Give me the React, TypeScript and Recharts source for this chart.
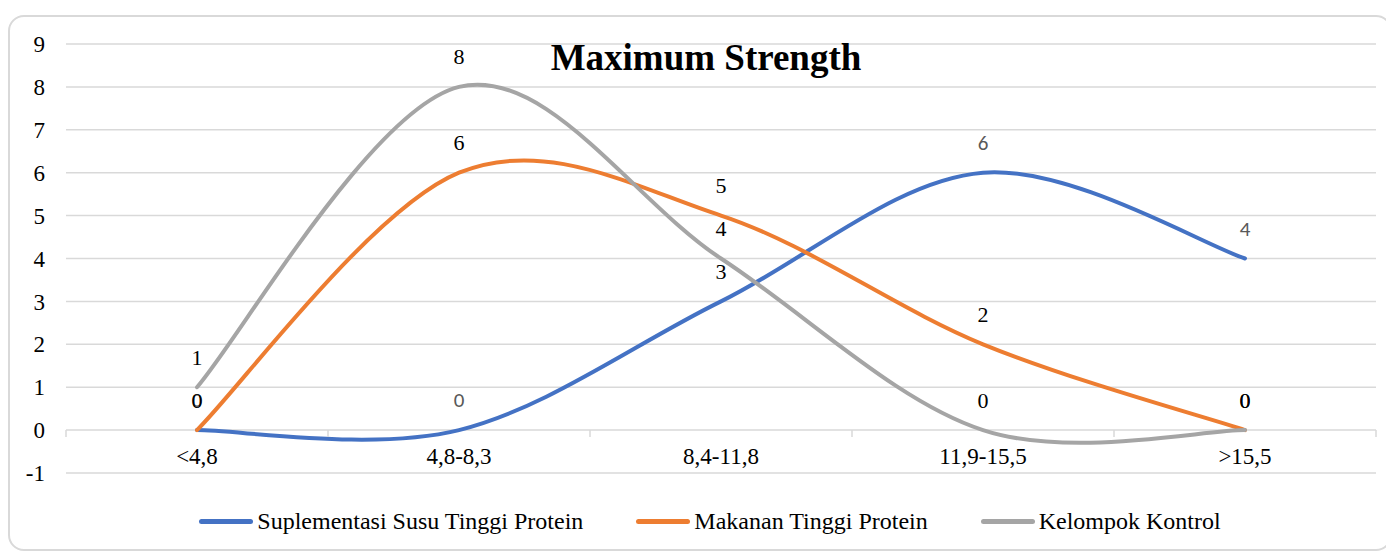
import { LineChart, Line, XAxis, YAxis, CartesianGrid, LabelList } from "recharts"

const categories = ["<4,8", "4,8-8,3", "8,4-11,8", "11,9-15,5", ">15,5"]
const suplementasi = [0, 0, 3, 6, 4]
const makanan = [0, 6, 5, 2, 0]
const kontrol = [1, 8, 4, 0, 0]
const yTicks = [-1, 0, 1, 2, 3, 4, 5, 6, 7, 8, 9]

const data = categories.map((cat, i) => ({
  cat,
  suplementasi: suplementasi[i],
  makanan: makanan[i],
  kontrol: kontrol[i],
}))

const SERIF = "Liberation Serif, Times New Roman, serif"
const SANS = "Carlito, Calibri, Liberation Sans, Arial, sans-serif"

const W = 1386
const H = 544
const MARGIN = { top: 36, right: 18, bottom: 49, left: 0 }
const Y_AXIS_W = 58
const X_AXIS_H = 30
const PLOT_W = W - MARGIN.left - MARGIN.right - Y_AXIS_W
const PLOT_H = H - MARGIN.top - MARGIN.bottom - X_AXIS_H
const Y_MIN = -1
const Y_MAX = 9
const ZERO_Y = MARGIN.top + (PLOT_H * (Y_MAX - 0)) / (Y_MAX - Y_MIN)
const BAND = PLOT_W / categories.length

// Excel-style smoothing: Catmull-Rom style bezier with 1/6 factor
const excelCurve = (context: any) => {
  let pts: number[][] = []
  return {
    areaStart() {},
    areaEnd() {},
    lineStart() {
      pts = []
    },
    point(x: number, y: number) {
      pts.push([+x, +y])
    },
    lineEnd() {
      const n = pts.length
      if (!n) return
      context.moveTo(pts[0][0], pts[0][1])
      for (let i = 0; i < n - 1; i++) {
        const p0 = pts[Math.max(i - 1, 0)]
        const p1 = pts[i]
        const p2 = pts[i + 1]
        const p3 = pts[Math.min(i + 2, n - 1)]
        context.bezierCurveTo(
          p1[0] + (p2[0] - p0[0]) / 6,
          p1[1] + (p2[1] - p0[1]) / 6,
          p2[0] - (p3[0] - p1[0]) / 6,
          p2[1] - (p3[1] - p1[1]) / 6,
          p2[0],
          p2[1]
        )
      }
    },
  }
}

const CategoryTick = (props: any) => {
  const { x, payload, index } = props
  const left = x - BAND / 2
  return (
    <g>
      <line x1={left} x2={left} y1={ZERO_Y} y2={ZERO_Y + 7} stroke="#d9d9d9" strokeWidth={1.5} />
      {index === categories.length - 1 && (
        <line x1={x + BAND / 2} x2={x + BAND / 2} y1={ZERO_Y} y2={ZERO_Y + 7} stroke="#d9d9d9" strokeWidth={1.5} />
      )}
      <text x={x} y={ZERO_Y + 26} textAnchor="middle" dominantBaseline="central" fontFamily={SERIF} fontSize={23} fill="#000">
        {payload.value}
      </text>
    </g>
  )
}

const makeLabel = (sansFor: (i: number) => boolean) => (props: any) => {
  const { x, y, value, index } = props
  const sans = sansFor(index)
  return (
    <text
      x={x}
      y={y - 30}
      textAnchor="middle"
      dominantBaseline="central"
      fontFamily={sans ? SANS : SERIF}
      fontSize={sans ? 21 : 22}
      fill={sans ? "#595959" : "#000"}
    >
      {value}
    </text>
  )
}

const legendItems = [
  { name: "Suplementasi Susu Tinggi Protein", color: "#4472C4" },
  { name: "Makanan Tinggi Protein", color: "#ED7D31" },
  { name: "Kelompok Kontrol", color: "#A5A5A5" },
]

export default function App() {
  return (
    <div style={{ position: "relative", width: W, height: H }}>
      <div
        style={{
          position: "absolute",
          left: 0,
          top: 7,
          width: 1384,
          height: 536,
          border: "2px solid #d9d9d9",
          borderRadius: 16,
          boxSizing: "border-box",
        }}
      />
      <div style={{ position: "absolute", left: 0, top: 0 }}>
        <LineChart width={W} height={H} data={data} margin={MARGIN}>
          <CartesianGrid horizontal vertical={false} stroke="#d9d9d9" strokeWidth={1.5} />
          <XAxis
            dataKey="cat"
            height={X_AXIS_H}
            axisLine={false}
            tickLine={false}
            interval={0}
            padding={{ left: BAND / 2, right: BAND / 2 }}
            tick={<CategoryTick />}
          />
          <YAxis
            width={Y_AXIS_W}
            domain={[Y_MIN, Y_MAX]}
            ticks={yTicks}
            interval={0}
            axisLine={false}
            tickLine={false}
            tickSize={0}
            tickMargin={21}
            tick={{ fontFamily: SERIF, fontSize: 23, fill: "#000" }}
          />
          <Line
            dataKey="suplementasi"
            type={excelCurve as any}
            stroke="#4472C4"
            strokeWidth={4}
            strokeLinecap="round"
            dot={false}
            activeDot={false}
            isAnimationActive={false}
          >
            <LabelList dataKey="suplementasi" content={makeLabel((i) => i !== 2)} />
          </Line>
          <Line
            dataKey="makanan"
            type={excelCurve as any}
            stroke="#ED7D31"
            strokeWidth={4}
            strokeLinecap="round"
            dot={false}
            activeDot={false}
            isAnimationActive={false}
          >
            <LabelList dataKey="makanan" content={makeLabel(() => false)} />
          </Line>
          <Line
            dataKey="kontrol"
            type={excelCurve as any}
            stroke="#A5A5A5"
            strokeWidth={4}
            strokeLinecap="round"
            dot={false}
            activeDot={false}
            isAnimationActive={false}
          >
            <LabelList dataKey="kontrol" content={makeLabel(() => false)} />
          </Line>
        </LineChart>
      </div>
      <div
        style={{
          position: "absolute",
          left: 498,
          top: 30,
          width: 400,
          textAlign: "center",
          fontFamily: SERIF,
          fontWeight: "bold",
          fontSize: 37,
          lineHeight: "40px",
          color: "#000",
        }}
      >
        Maximum Strength
      </div>
      <div
        style={{
          position: "absolute",
          left: 0,
          width: 1404,
          top: 498,
          display: "flex",
          justifyContent: "center",
          gap: 53,
          fontFamily: SERIF,
          fontSize: 24,
          lineHeight: "30px",
          color: "#000",
        }}
      >
        {legendItems.map((it) => (
          <div key={it.name} style={{ display: "flex", alignItems: "center" }}>
            <span
              style={{
                display: "inline-block",
                width: 54,
                height: 5,
                borderRadius: 3,
                background: it.color,
                marginRight: 4,
              }}
            />
            <span>{it.name}</span>
          </div>
        ))}
      </div>
    </div>
  )
}
